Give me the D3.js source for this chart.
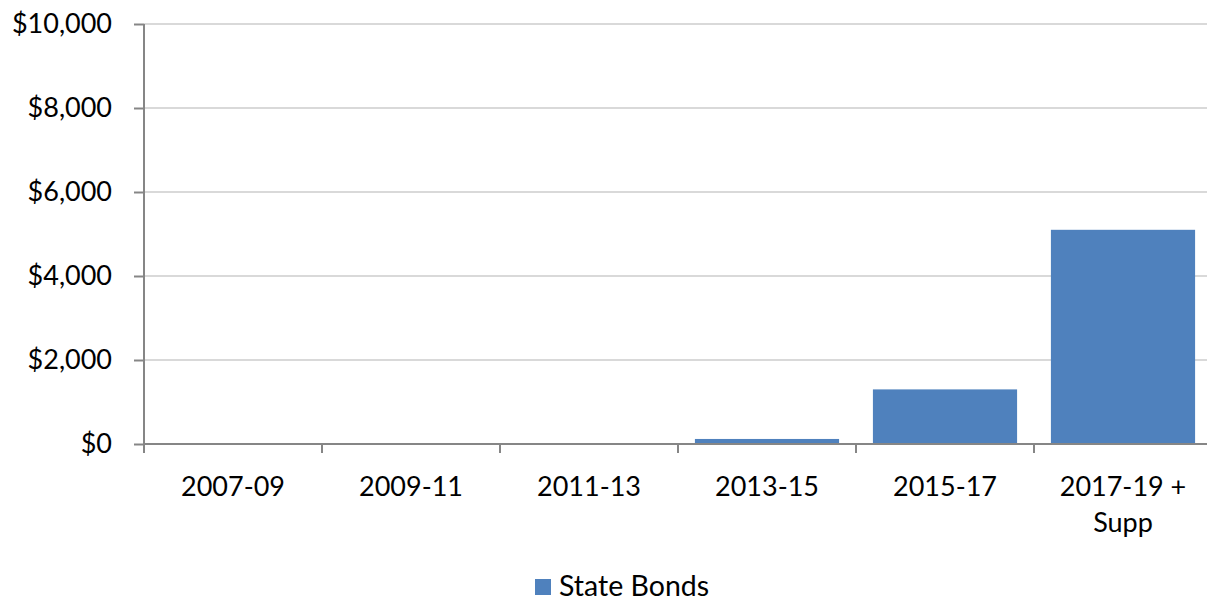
<!DOCTYPE html>
<html>
<head>
<meta charset="utf-8">
<script src="https://cdn.jsdelivr.net/npm/d3@7/dist/d3.min.js"></script>
<style>
  html, body { margin: 0; padding: 0; background: #fff; }
  svg { display: block; }
  text { font-family: Lato, "Open Sans", sans-serif; fill: #000; }
</style>
</head>
<body>
<svg id="chart" width="1207" height="602"></svg>
<script>
// Biennium labels (second line after "\n")
const categories = ["2007-09", "2009-11", "2011-13", "2013-15", "2015-17", "2017-19 +\nSupp"];
// State bond amounts
const stateBonds = [0, 0, 0, 120, 1300, 5100];
const yTicks = [0, 2000, 4000, 6000, 8000, 10000];
const seriesName = "State Bonds";

const svg = d3.select("#chart");
const margin = { left: 144, top: 24, right: -5, bottom: 158 };
const W = 1207, H = 602;
const fontSize = 27;

const x = d3.scaleBand()
  .domain(categories)
  .range([margin.left, W - margin.right])
  .paddingInner(0.19)
  .paddingOuter(0.095);

const y = d3.scaleLinear()
  .domain([0, 10000])
  .range([H - margin.bottom, margin.top]);

const fmt = v => "$" + d3.format(",")(v);

// gridlines
svg.append("g")
  .selectAll("line")
  .data(yTicks.filter(d => d > 0))
  .join("line")
  .attr("x1", margin.left)
  .attr("x2", W)
  .attr("y1", d => y(d))
  .attr("y2", d => y(d))
  .attr("stroke", "#d9d9d9")
  .attr("stroke-width", 2);

// bars
svg.append("g")
  .selectAll("rect")
  .data(categories.map((c, i) => ({ c, v: stateBonds[i] })))
  .join("rect")
  .attr("x", d => x(d.c))
  .attr("width", x.bandwidth())
  .attr("y", d => y(d.v))
  .attr("height", d => y(0) - y(d.v))
  .attr("fill", "#4f81bd");

// y axis
const yAxis = svg.append("g")
  .attr("transform", `translate(${margin.left},0)`)
  .call(d3.axisLeft(y).tickValues(yTicks).tickFormat(fmt).tickSize(10).tickPadding(22));
yAxis.select(".domain").remove();
yAxis.selectAll(".tick line").attr("stroke", "#868686").attr("stroke-width", 2);
yAxis.selectAll(".tick text").attr("font-size", fontSize).attr("font-family", "Lato, sans-serif").attr("fill", "#000");
yAxis.append("line")
  .attr("x1", 0).attr("x2", 0)
  .attr("y1", margin.top).attr("y2", y(0) + 9)
  .attr("stroke", "#868686").attr("stroke-width", 2);

// x axis
const bandStep = x.step();
const tickPositions = d3.range(categories.length + 1).map(i => margin.left + i * bandStep);
const xg = svg.append("g");
xg.append("line")
  .attr("x1", margin.left).attr("x2", W)
  .attr("y1", y(0)).attr("y2", y(0))
  .attr("stroke", "#868686").attr("stroke-width", 2);
xg.selectAll("line.tk")
  .data(tickPositions)
  .join("line")
  .attr("class", "tk")
  .attr("x1", d => d).attr("x2", d => d)
  .attr("y1", y(0)).attr("y2", y(0) + 9)
  .attr("stroke", "#868686").attr("stroke-width", 2);

const labels = xg.selectAll("text")
  .data(categories)
  .join("text")
  .attr("text-anchor", "middle")
  .attr("font-size", fontSize)
  .attr("y", y(0) + 52);
labels.each(function(d) {
  const t = d3.select(this);
  const cx = x(d) + x.bandwidth() / 2;
  d.split("\n").forEach((line, i) => {
    t.append("tspan").attr("x", cx).attr("dy", i === 0 ? 0 : 36).text(line);
  });
});

// legend
const lg = svg.append("g").attr("transform", "translate(535,579)");
lg.append("rect").attr("width", 16).attr("height", 16).attr("fill", "#4f81bd");
lg.append("text").attr("x", 24).attr("y", 17).attr("font-size", 28.5).text(seriesName);
</script>
</body>
</html>
